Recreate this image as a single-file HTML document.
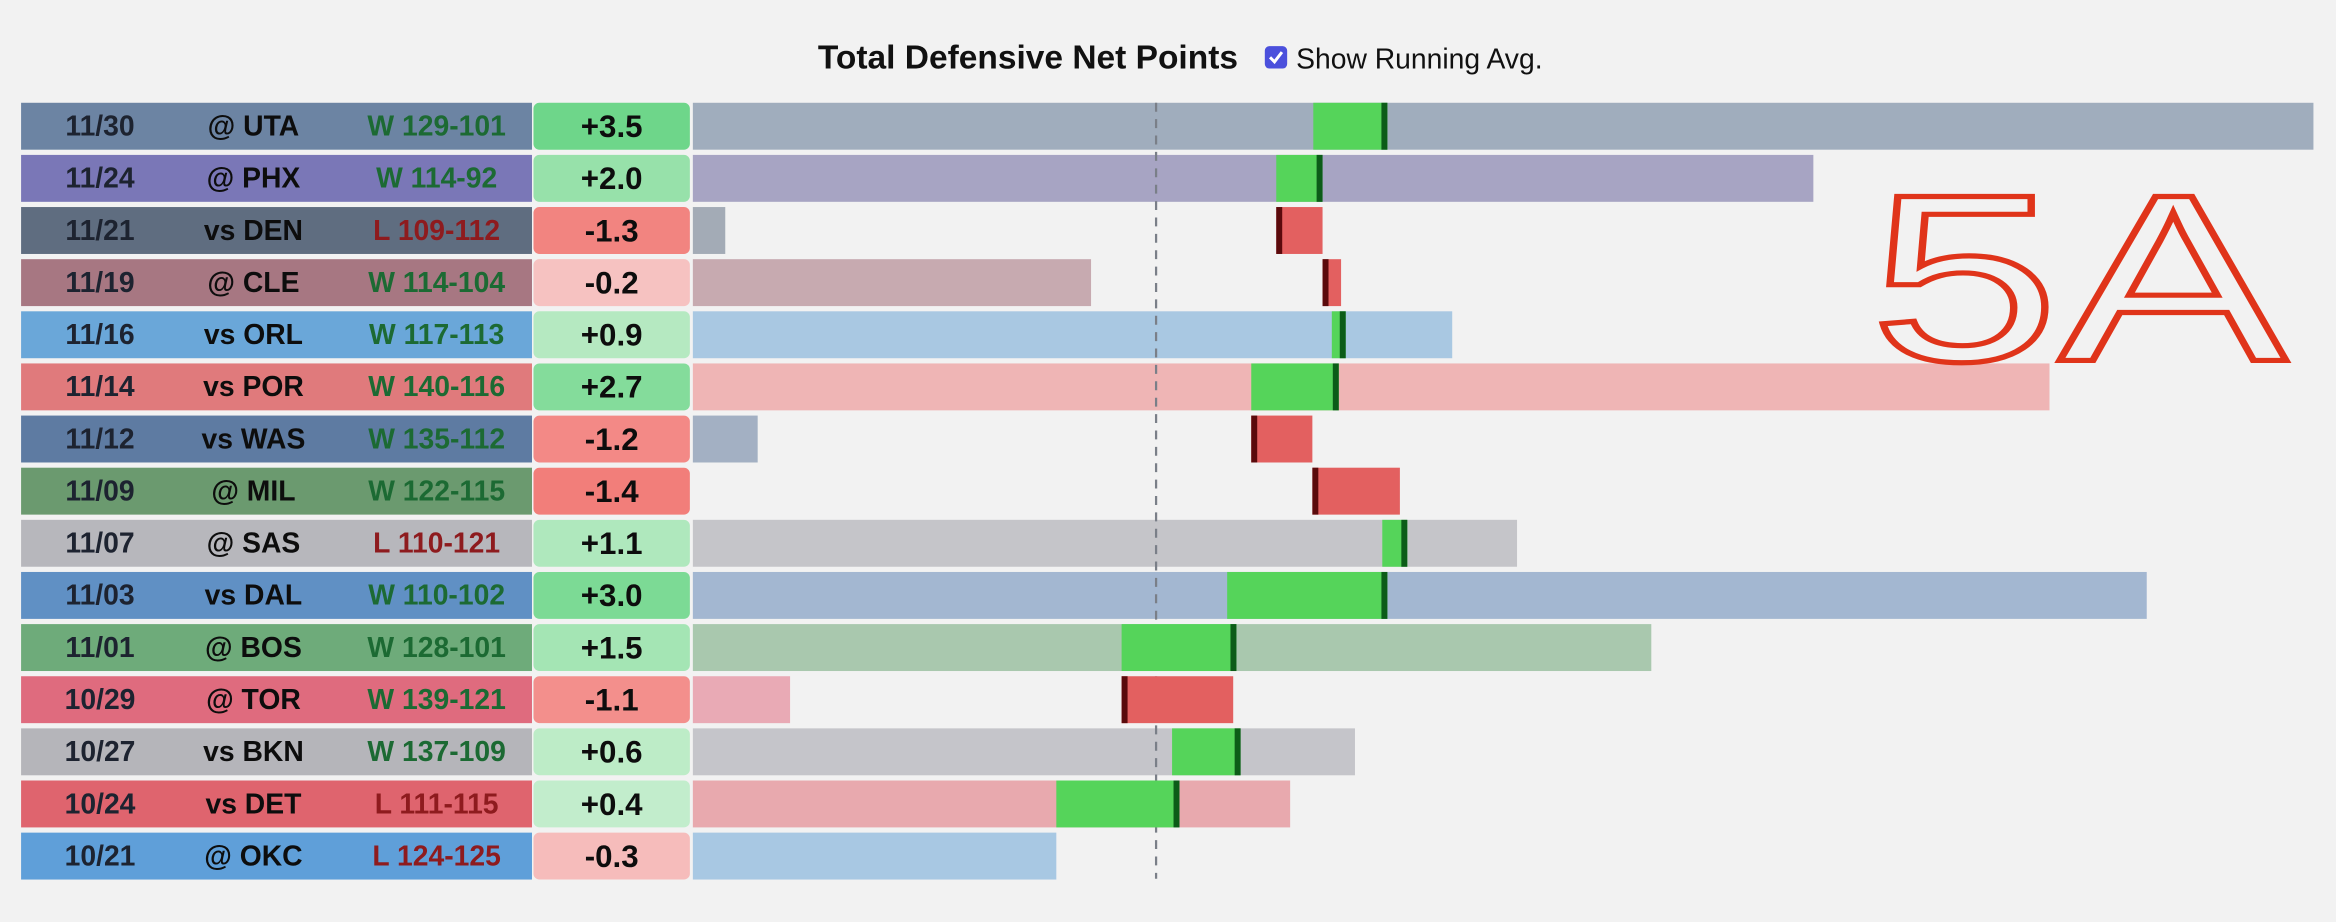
<!DOCTYPE html>
<html><head><meta charset="utf-8"><style>
html,body{margin:0;padding:0;background:#f2f2f2;}
svg{display:block;font-family:"Liberation Sans",Arial,sans-serif;}
</style></head><body>
<svg id="chart" width="2336" height="922" viewBox="0 0 1568 619" xmlns="http://www.w3.org/2000/svg">
<rect x="0" y="0" width="1568" height="619" fill="#f2f2f2"/>
<text x="831" y="46" text-anchor="end" font-size="22.5" font-weight="bold" fill="#111">Total Defensive Net Points</text>
<g>
<rect x="849" y="31" width="15" height="15" rx="3" fill="#4b50dc"/>
<path d="M852.5 38.5 L855.5 41.5 L860.5 35" stroke="#fff" stroke-width="2" fill="none"/>
<text x="870" y="46" font-size="19" fill="#111">Show Running Avg.</text>
</g>
<g id="rows"></g>
<line id="zero-line" x1="776" y1="69" x2="776" y2="590" stroke="#7a7f88" stroke-width="1.5" stroke-dasharray="6,5"/>
<g id="marks"></g>
<text x="1255" y="242" font-size="160" textLength="280" lengthAdjust="spacingAndGlyphs" fill="none" stroke="#e0341a" stroke-width="3.5" font-family="'Liberation Sans',sans-serif">5A</text>
</svg>
<script>
const dates = ["11/30","11/24","11/21","11/19","11/16","11/14","11/12","11/09","11/07","11/03","11/01","10/29","10/27","10/24","10/21"];
const opponents = ["@ UTA","@ PHX","vs DEN","@ CLE","vs ORL","vs POR","vs WAS","@ MIL","@ SAS","vs DAL","@ BOS","@ TOR","vs BKN","vs DET","@ OKC"];
const results = ["W 129-101","W 114-92","L 109-112","W 114-104","W 117-113","W 140-116","W 135-112","W 122-115","L 110-121","W 110-102","W 128-101","W 139-121","W 137-109","L 111-115","L 124-125"];
const netValues = [3.5,2.0,-1.3,-0.2,0.9,2.7,-1.2,-1.4,1.1,3.0,1.5,-1.1,0.6,0.4,-0.3];
const totals = [25.0,14.2,-9.3,-1.4,6.4,19.3,-8.6,-10,7.8,21.4,10.7,-7.9,4.3,2.9,-2.15];
const avgPrev = [3.4,2.6,3.6,4.0,3.8,2.06,3.38,5.27,4.89,1.54,-0.74,1.67,0.35,-2.15,null];
const avgCur = [5.0,3.6,2.6,3.6,4.1,3.95,2.06,3.38,5.43,5.0,1.74,-0.74,1.83,0.51,null];
const teamColors = ["#6c84a3","#7a77b7","#5f6d80","#a77782","#6aa7d9","#e07a7c","#5e7ba2","#6b9a6f","#b7b7bc","#6090c4","#6eab7a","#df6b7e","#b5b5ba","#df646e","#5f9fd9"];
const barColors = ["#a0adbd","#a7a4c3","#a3abb6","#c7aab0","#a9c8e2","#efb5b5","#a3b0c3","#a9c2aa","#c5c5c9","#a3b7d1","#a9c8ae","#e9aab5","#c5c5ca","#e8a9ae","#a8c8e3"];
const DOMAIN_MIN = -10, DOMAIN_MAX = 25;
const X0 = 465, X1 = 1553;
function x(v){ return X0 + (v - DOMAIN_MIN) / (DOMAIN_MAX - DOMAIN_MIN) * (X1 - X0); }
function y(i){ return 69 + i * 35; }
function valColor(v){
  if (v >= 0){ const t = Math.min(v/3.5,1); return mix([205,240,212],[110,214,138],t); }
  const t = Math.min(-v/1.4,1); return mix([247,205,205],[242,126,122],t);
}
function mix(a,b,t){ return "rgb("+a.map((c,k)=>Math.round(c+(b[k]-c)*t)).join(",")+")"; }
const NS = "http://www.w3.org/2000/svg";
function el(tag, attrs, parent){ const e = document.createElementNS(NS, tag); for (const k in attrs) e.setAttribute(k, attrs[k]); parent.appendChild(e); return e; }
const rows = document.getElementById("rows");
const marks = document.getElementById("marks");
const H = 31.5;
dates.forEach((d, i) => {
  const yy = y(i);
  const g = el("g", {}, rows);
  
  
  const cell = el("rect", {x:14, y:yy, width:343, height:H, fill:teamColors[i]}, g);
  
  
  const t1 = el("text", {x:67, y:yy+22, "text-anchor":"middle", "font-size":19, "font-weight":"bold", fill:"#1d2330"}, g);
  t1.textContent = d;
  
  
  const t2 = el("text", {x:170, y:yy+22, "text-anchor":"middle", "font-size":19, "font-weight":"bold", fill:"#0d0d0d"}, g);
  t2.textContent = opponents[i];
  
  
  const win = results[i][0] === "W";
  const t3 = el("text", {x:293, y:yy+22, "text-anchor":"middle", "font-size":19, "font-weight":"bold", fill: win ? "#1c6a33" : "#8e1b1e"}, g);
  t3.textContent = results[i];
  
  
  const vb = el("rect", {x:358, y:yy, width:105, height:H, rx:4, fill:valColor(netValues[i])}, g);
  
  
  const vt = el("text", {x:410.5, y:yy+23, "text-anchor":"middle", "font-size":21, "font-weight":"bold", fill:"#0d0d0d"}, g);
  vt.textContent = (netValues[i] > 0 ? "+" : "") + netValues[i].toFixed(1);
  
  
  const bw = Math.max(0, x(totals[i]) - X0);
  const bar = el("rect", {x:X0, y:yy, width:bw, height:H, fill:barColors[i]}, rows);
  
  
  if (avgPrev[i] !== null){
    const up = avgCur[i] >= avgPrev[i];
    const a = x(Math.min(avgPrev[i], avgCur[i])), b = x(Math.max(avgPrev[i], avgCur[i]));
    const seg = el("rect", {x:a, y:yy, width:b-a, height:H, fill: up ? "#55d45a" : "#e36060"}, marks);
    
    
    const mx = up ? x(avgCur[i]) - 4 : x(avgCur[i]);
    const mk = el("rect", {x:mx, y:yy, width:4, height:H, fill: up ? "#0c5c18" : "#5a0a0c"}, marks);
    
    
  }
});
</script>
</body></html>
